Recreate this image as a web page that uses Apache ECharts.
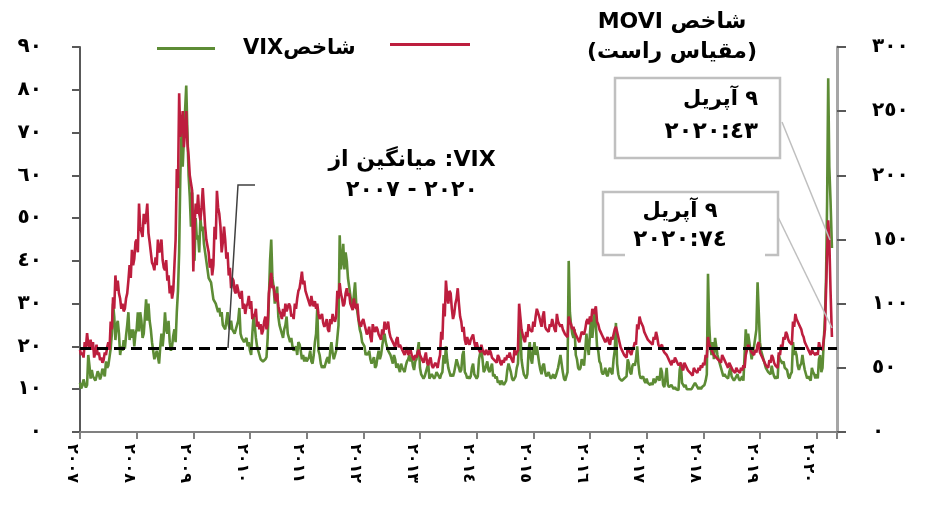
<!DOCTYPE html>
<html>
<head>
    <meta charset="utf-8">
    <title>VIX و MOVE</title>
    <script src="https://cdn.jsdelivr.net/npm/echarts@6/dist/echarts.min.js"></script>
    <style>
        html, body { margin: 0; padding: 0; background: #fff; }
        #main { width: 935px; height: 510px; }
    </style>
</head>
<body>
<div id="main"></div>
<script>
    // تقریباً هفتگی از ژانویه ۲۰۰۷ (هر ماه ۴ مقدار، هر سال ۴۸ مقدار)
    var START_YEAR = 2007;
    var STEPS_PER_YEAR = 48;
    var vixWeekly = [
        // 2007
        11.5, 10.2, 10.8, 12.3, 11.2, 10.4, 11, 18, 15.5, 12.5, 14.5, 13, 12.8, 12, 13, 14.2, 13.5, 12.3, 13.2, 14.8, 14.5, 13, 16.5, 15,
        15.5, 17.5, 19.5, 23, 30, 27, 21.5, 25, 26, 23, 18, 20, 19, 21.5, 19.5, 22.5, 25, 28, 21.5, 24, 22, 24, 20, 23,
        // 2008
        24, 28, 23.5, 28, 26, 22, 23, 27, 31, 26, 30, 26, 24, 21, 19, 17, 17, 19, 17.5, 16, 20, 23, 20, 23,
        28, 24, 23, 26, 21, 19, 20, 22.5, 24, 21, 28, 33, 42, 60, 70, 62, 62, 75, 81, 70, 60, 55, 48, 56,
        // 2009
        46, 40, 50, 45, 46, 42, 50, 47, 48, 44, 42, 40, 38, 36, 36, 35, 33, 31, 31, 30, 30, 28, 29, 27,
        28, 25, 25, 24, 26, 28, 25, 24, 26, 24, 24, 23, 23, 25, 26, 29, 23, 22, 22, 21, 21, 22, 20, 21,
        // 2010
        19, 18, 23, 27, 25, 22, 20, 19, 18, 17, 17, 16.5, 16.5, 17, 17.5, 22, 31, 40, 45, 36, 34, 30, 30, 34,
        27, 25, 24, 23, 22, 24, 25, 27, 23, 22, 21, 22, 20, 19, 19.5, 20, 18, 21, 20.5, 19, 17, 18, 16.5, 17.5,
        // 2011
        16.5, 17, 17.5, 19, 16.5, 16, 18, 21, 23, 29, 19, 18, 16, 15, 15.5, 15, 16, 17, 17.5, 16, 19, 21, 18.5, 17,
        17, 19, 22, 25, 46, 38, 40, 44, 38, 42, 40, 36, 36, 32, 30, 29, 32, 35, 30, 28, 26, 24, 23, 21,
        // 2012
        21, 20, 18, 18.5, 18, 19, 17, 16, 16, 17.5, 15, 15.5, 17.5, 19, 17, 18, 20, 22, 23, 21, 21, 19, 19, 18,
        17, 16, 18, 17, 15, 16, 15, 14, 16, 15, 14.5, 14, 15.5, 16.5, 17, 18, 16.5, 17.5, 15.5, 14.5, 16.5, 17, 19, 21,
        // 2013
        15, 13.5, 13, 12.5, 13, 14, 15, 16, 12.5, 13, 13.5, 13, 12.5, 13, 14, 13.5, 13, 12.5, 13.5, 14, 18, 16, 20, 17,
        15, 14, 13, 13.5, 13, 14, 15.5, 17, 16, 15, 14, 14.5, 18, 19, 14, 13.5, 12.5, 13, 12.5, 13, 15, 16, 13.5, 13,
        // 2014
        12.5, 13, 17, 18.5, 19, 17, 14, 14.5, 15.5, 16.5, 14.5, 14, 15, 16, 13, 13.5, 12.5, 13, 11.5, 12, 11, 12, 11.5, 11,
        11.5, 12, 14.5, 16, 15, 14, 12.5, 12, 12.5, 13, 15, 16, 22, 25, 17, 15, 13.5, 13, 12.5, 13.5, 19, 21, 17, 16,
        // 2015
        19, 21, 18, 20, 18, 16, 14.5, 13.5, 15.5, 16, 14, 13, 13.5, 14, 13, 12.5, 13, 13.5, 12.5, 13, 14, 15, 16.5, 18,
        16, 14, 12.5, 12, 13, 14, 40, 28, 25, 23, 22, 24, 18, 17, 15, 14.5, 15, 17, 16.5, 15.5, 19, 23, 20, 18,
        // 2016
        23, 27, 22, 25, 28, 25, 20, 19, 16.5, 16, 14, 13.5, 14, 15, 13.5, 13, 14.5, 15, 14, 13.5, 17, 19, 25.5, 16,
        13.5, 12.5, 12.5, 12, 12, 12.5, 12.5, 13, 17, 16, 14, 13.5, 15.5, 16, 15.5, 17, 20, 16, 13.5, 12.5, 12.5, 13, 12, 11.5,
        // 2017
        12.5, 11.5, 11.5, 11, 11.5, 11, 12.5, 11.5, 12, 13, 13, 12, 15, 14, 11, 10.5, 10.5, 15, 11, 10.5, 10.5, 11, 10.5, 10,
        10.5, 10, 10, 9.8, 14.5, 16, 11.5, 11, 10.5, 11, 10, 9.8, 10, 9.8, 10, 10.5, 11, 11.5, 11, 10.5, 10, 10.5, 10, 10.5,
        // 2018
        10.5, 11, 12, 13.5, 37, 25, 20, 18, 21, 17, 22, 20, 18, 17, 16, 15, 14, 13, 13.5, 13, 13, 12.5, 14, 15,
        13, 12.5, 12, 12.5, 12.5, 13.5, 12.5, 12, 12.5, 13, 12, 12, 24, 20, 23, 21, 19, 17, 19, 20, 22, 24, 35, 28,
        // 2019
        21, 19, 18, 17, 16, 15, 15, 14, 14, 13.5, 15.5, 14, 13, 12.5, 13, 12.5, 18, 17, 16.5, 16, 16.5, 15, 15, 14.5,
        13, 12.5, 13.5, 14, 21, 18, 19, 18, 15.5, 14.5, 15.5, 16, 18, 16, 14.5, 13.5, 12.5, 13, 12.5, 12, 15, 14, 13.5, 12.5,
        // 2020
        13.5, 12.5, 17, 18, 14, 15
    ];
    var moveWeekly = [
        // 2007
        64, 60, 62, 58, 70, 66, 77, 68, 66, 72, 64, 70, 58, 62, 68, 60, 62, 56, 58, 54, 56, 62, 60, 66,
        70, 64, 86, 80, 105, 96, 122, 110, 118, 108, 104, 96, 100, 94, 96, 104, 108, 118, 130, 120, 142, 130, 135, 148,
        // 2008
        150, 140, 178, 160, 160, 152, 170, 162, 168, 178, 155, 148, 140, 132, 130, 126, 136, 130, 150, 140, 142, 150, 134, 128,
        126, 134, 118, 122, 108, 114, 104, 110, 130, 150, 205, 190, 264, 230, 238, 250, 222, 235, 250, 225, 215, 200, 200, 188,
        // 2009
        125, 160, 178, 170, 185, 170, 165, 175, 190, 175, 160, 150, 145, 140, 128, 135, 122, 130, 160, 150, 188, 175, 170, 160,
        140, 148, 160, 150, 135, 140, 122, 128, 112, 120, 118, 110, 108, 115, 114, 106, 104, 110, 96, 100, 92, 98, 100, 106,
        // 2010
        96, 102, 88, 92, 90, 96, 82, 86, 80, 84, 76, 79, 86, 90, 80, 84, 108, 116, 124, 112, 114, 106, 102, 108,
        98, 94, 92, 88, 96, 90, 100, 94, 94, 100, 98, 90, 92, 88, 100, 96, 104, 110, 112, 118, 125, 115, 118, 110,
        // 2011
        110, 104, 104, 98, 106, 100, 98, 102, 96, 100, 92, 88, 88, 92, 85, 82, 84, 88, 80, 78, 88, 84, 92, 88,
        86, 90, 110, 104, 116, 108, 104, 98, 100, 108, 112, 106, 108, 100, 100, 95, 104, 98, 96, 100, 88, 84, 82, 86,
        // 2012
        88, 84, 80, 76, 78, 82, 74, 70, 84, 80, 78, 82, 80, 76, 74, 72, 80, 76, 86, 80, 82, 86, 78, 74,
        72, 70, 68, 66, 72, 74, 66, 68, 68, 64, 62, 60, 64, 66, 60, 62, 64, 60, 58, 56, 60, 58, 62, 64,
        // 2013
        60, 58, 56, 54, 58, 62, 54, 52, 56, 58, 52, 50, 50, 54, 52, 50, 56, 60, 78, 72, 100, 90, 118, 106,
        100, 110, 108, 96, 88, 92, 100, 104, 112, 100, 90, 86, 78, 82, 72, 68, 74, 70, 68, 72, 72, 76, 70, 66,
        // 2014
        70, 66, 66, 62, 68, 64, 62, 60, 64, 62, 60, 64, 62, 58, 58, 56, 56, 54, 60, 58, 54, 52, 56, 54,
        58, 56, 60, 58, 62, 58, 56, 54, 64, 60, 62, 64, 100, 90, 80, 76, 72, 70, 78, 74, 84, 80, 80, 78,
        // 2015
        86, 82, 90, 96, 96, 90, 86, 82, 90, 94, 82, 80, 80, 78, 84, 82, 88, 84, 80, 78, 92, 86, 86, 82,
        84, 80, 78, 76, 76, 74, 90, 86, 84, 80, 82, 78, 76, 74, 72, 70, 74, 78, 78, 76, 80, 86, 88, 84,
        // 2016
        90, 86, 96, 92, 94, 98, 86, 84, 80, 78, 76, 74, 74, 70, 72, 74, 70, 68, 74, 72, 76, 80, 82, 78,
        74, 70, 66, 64, 62, 60, 60, 58, 66, 64, 62, 60, 64, 66, 70, 68, 84, 80, 90, 86, 86, 82, 78, 76,
        // 2017
        76, 72, 72, 70, 70, 68, 74, 72, 78, 74, 68, 66, 66, 68, 64, 62, 62, 60, 58, 56, 54, 52, 56, 54,
        58, 56, 54, 52, 52, 54, 50, 48, 54, 52, 50, 48, 48, 46, 46, 44, 50, 48, 48, 46, 50, 48, 52, 50,
        // 2018
        54, 52, 60, 58, 74, 68, 66, 64, 62, 60, 60, 58, 58, 56, 56, 54, 60, 58, 56, 54, 52, 50, 54, 52,
        50, 48, 48, 46, 50, 48, 48, 46, 50, 48, 52, 50, 60, 64, 68, 66, 64, 62, 62, 60, 64, 62, 68, 70,
        // 2019
        62, 60, 58, 56, 54, 52, 52, 50, 56, 54, 60, 58, 54, 52, 52, 50, 62, 60, 68, 66, 74, 72, 78, 76,
        72, 70, 70, 68, 86, 82, 92, 88, 88, 84, 84, 80, 76, 74, 70, 68, 66, 64, 62, 60, 64, 62, 62, 60,
        // 2020
        62, 60, 70, 66, 66, 64
    ];
    // آخر دوره (بحران کرونا) با تاریخ مشخص
    var tailDates = ['2020-02-16', '2020-02-24', '2020-03-02', '2020-03-09', '2020-03-16', '2020-03-23', '2020-03-31', '2020-04-09'];
    var tailVix = [15, 27, 36, 54, 82.7, 62, 54, 43];
    var tailMove = [64, 80, 110, 140, 165, 150, 110, 74];

    var VIX_AVG = 19.5;   // میانگین ۲۰۰۷-۲۰۲۰

    var GREEN = '#5d8c35';
    var RED = '#bd1e3e';
    var FONT = "'DejaVu Sans', sans-serif";
    var AR_DIGITS = '٠١٢٣٤٥٦٧٨٩';

    function toAr(v) {
        return String(v).replace(/\d/g, function (d) { return AR_DIGITS[d]; });
    }

    function yearFrac(s) {
        var p = s.split('-');
        var y = +p[0];
        var t = Date.UTC(y, +p[1] - 1, +p[2]);
        var a = Date.UTC(y, 0, 1), b = Date.UTC(y + 1, 0, 1);
        return y + (t - a) / (b - a);
    }

    function buildSeries(weekly, tail) {
        var out = weekly.map(function (v, i) { return [START_YEAR + i / STEPS_PER_YEAR, v]; });
        tailDates.forEach(function (d, k) { out.push([yearFrac(d), tail[k]]); });
        return out;
    }

    var labelStyle = { color: '#000', fontFamily: FONT, fontWeight: 'bold', fontSize: 20 };

    function txt(text, x, y, align, size) {
        return {
            type: 'text', x: x, y: y, z: 100,
            style: {
                text: text, fill: '#000', font: 'bold ' + (size || 19) + 'px ' + FONT,
                align: align || 'center', verticalAlign: 'middle',
                textAlign: align || 'center', textVerticalAlign: 'middle'
            }
        };
    }

    var chart = echarts.init(document.getElementById('main'));
    var option = {
        animation: false,
        backgroundColor: '#fff',
        grid: { left: 80, right: 98, top: 47, bottom: 78, containLabel: false },
        legend: [
            {
                data: ['VIX'], left: 157, top: 38, padding: 0, icon: 'rect', itemWidth: 58, itemHeight: 3,
                formatter: function () { return 'VIXشاخص'; },
                textStyle: { color: '#000', fontFamily: FONT, fontWeight: 'bold', fontSize: 21, padding: [0, 0, 0, 23] }
            },
            {
                data: ['MOVE'], left: 390, top: 43, padding: 0, icon: 'rect', itemWidth: 80, itemHeight: 3,
                formatter: function () { return ''; }
            }
        ],
        xAxis: {
            type: 'value', min: 2007, max: 2020.36, interval: 1,
            splitLine: { show: false },
            axisLine: { lineStyle: { color: '#808080', width: 2 } },
            axisTick: { length: 7, lineStyle: { color: '#808080', width: 2 } },
            axisLabel: {
                rotate: -90, margin: 12, verticalAlign: 'top',
                color: '#000', fontFamily: FONT, fontWeight: 'bold', fontSize: 16,
                formatter: function (v) { return Math.abs(v - Math.round(v)) < 1e-6 ? toAr(Math.round(v)) : ''; }
            }
        },
        yAxis: [
            {
                type: 'value', min: 0, max: 90, interval: 10, position: 'left',
                splitLine: { show: false },
                axisLine: { show: true, lineStyle: { color: '#595959', width: 2 } },
                axisTick: { show: true, length: 8, lineStyle: { color: '#595959', width: 2 } },
                axisLabel: Object.assign({ margin: 38, formatter: toAr }, labelStyle)
            },
            {
                type: 'value', min: 0, max: 300, interval: 50, position: 'right',
                splitLine: { show: false },
                axisLine: { show: true, lineStyle: { color: '#a6a6a6', width: 3 } },
                axisTick: { show: true, length: 9, lineStyle: { color: '#595959', width: 2 } },
                axisLabel: Object.assign({ margin: 35, formatter: toAr }, labelStyle)
            }
        ],
        series: [
            {
                name: 'VIX', type: 'line', yAxisIndex: 0, z: 2,
                data: buildSeries(vixWeekly, tailVix),
                showSymbol: false, symbol: 'none',
                itemStyle: { color: GREEN }, lineStyle: { color: GREEN, width: 2.6 }
            },
            {
                name: 'MOVE', type: 'line', yAxisIndex: 1, z: 3,
                data: buildSeries(moveWeekly, tailMove),
                showSymbol: false, symbol: 'none',
                itemStyle: { color: RED }, lineStyle: { color: RED, width: 2.6 }
            },
            {
                name: 'avg', type: 'line', yAxisIndex: 0, z: 5, data: [],
                markLine: {
                    silent: true, symbol: 'none', label: { show: false },
                    lineStyle: { color: '#000', width: 3, type: [11, 6] },
                    data: [{ yAxis: VIX_AVG }]
                }
            }
        ],
        graphic: [
            // عنوان محور راست
            txt('MOVI شاخص', 672, 22, 'center', 22),
            txt('(مقیاس راست)', 672, 52, 'center', 22),
            // توضیح خط میانگین
            txt('میانگین از :VIX', 412, 160, 'center', 22),
            txt('٢٠٠٧\u200E - \u200E٢٠٢٠', 412, 190, 'center', 22),
            {
                type: 'polyline', z: 100,
                shape: { points: [[255, 185], [238, 185], [228, 348]] },
                style: { stroke: '#404040', lineWidth: 1.5, fill: null }
            },
            // کادر ۱
            {
                type: 'rect', z: 100,
                shape: { x: 615, y: 78, width: 165, height: 80 },
                style: { stroke: '#c0c0c0', lineWidth: 2.5, fill: null }
            },
            txt('٩ آپریل', 758, 100, 'right', 21),
            txt('٢٠٢٠:٤٣', 758, 132, 'right', 23),
            {
                type: 'line', z: 100,
                shape: { x1: 782, y1: 122, x2: 830, y2: 240 },
                style: { stroke: '#bfbfbf', lineWidth: 1.5 }
            },
            // کادر ۲
            {
                type: 'polyline', z: 100,
                shape: { points: [[625, 255], [603, 255], [603, 192], [778, 192], [778, 255], [765, 255]] },
                style: { stroke: '#c0c0c0', lineWidth: 2.5, fill: null }
            },
            txt('٩ آپریل', 680, 212, 'center', 21),
            txt('٢٠٢٠:٧٤', 680, 240, 'center', 23),
            {
                type: 'line', z: 100,
                shape: { x1: 778, y1: 217, x2: 832, y2: 328 },
                style: { stroke: '#bfbfbf', lineWidth: 1.5 }
            }
        ]
    };
    chart.setOption(option);
</script>
</body>
</html>
